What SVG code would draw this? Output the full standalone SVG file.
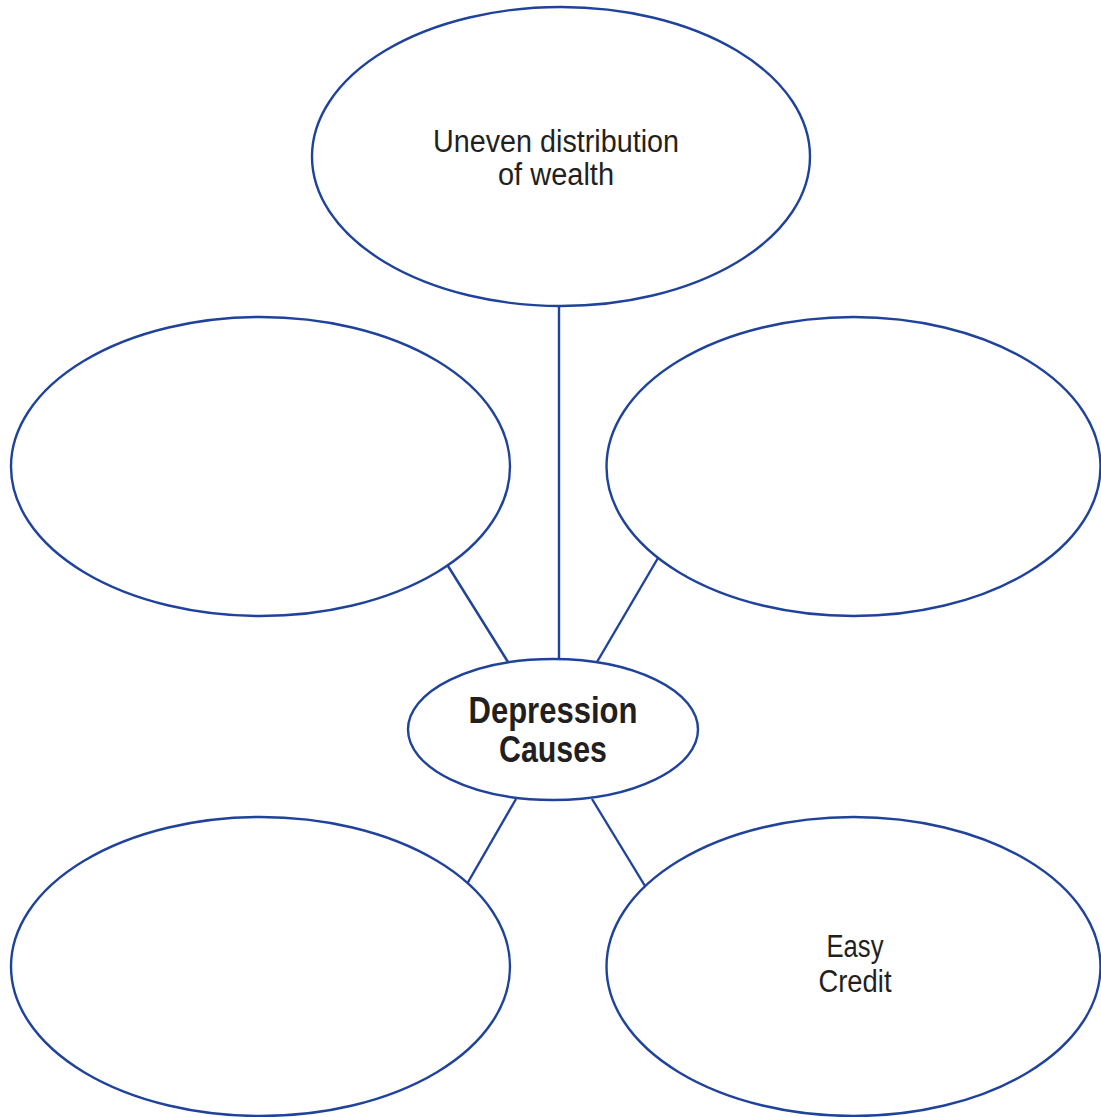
<svg xmlns="http://www.w3.org/2000/svg" width="1101" height="1117" viewBox="0 0 1101 1117">
<style>
.node { fill: #ffffff; stroke: #1f429b; stroke-width: 2.4; }
.conn { stroke: #1f429b; stroke-width: 2.4; fill: none; }
.lbl { font-family: "Liberation Sans", Arial, sans-serif; font-size: 31px; fill: #231f20; text-anchor: middle; }
.bold { font-weight: bold; font-size: 36px; }
</style>
<rect width="1101" height="1117" fill="#ffffff"/>
<g id="connectors">
  <line class="conn" x1="559" y1="306" x2="559" y2="660"/>
  <line class="conn" x1="448" y1="566" x2="508" y2="662"/>
  <line class="conn" x1="658" y1="558" x2="597" y2="662"/>
  <line class="conn" x1="516" y1="799" x2="467" y2="884"/>
  <line class="conn" x1="592" y1="799" x2="645" y2="886"/>
</g>
<g id="node-top">
  <ellipse class="node" cx="561" cy="156.5" rx="249" ry="149.5"/>
  <text class="lbl" x="556" y="152" textLength="246" lengthAdjust="spacingAndGlyphs">Uneven distribution</text>
  <text class="lbl" x="556" y="185" textLength="116" lengthAdjust="spacingAndGlyphs">of wealth</text>
</g>
<g id="node-left">
  <ellipse class="node" cx="260.5" cy="466.5" rx="249.5" ry="149.5"/>
</g>
<g id="node-right">
  <ellipse class="node" cx="853.5" cy="466.5" rx="247" ry="149.5"/>
</g>
<g id="node-center">
  <ellipse class="node" cx="553" cy="729.5" rx="145" ry="70.5"/>
  <text class="lbl bold" x="553" y="723" textLength="169" lengthAdjust="spacingAndGlyphs">Depression</text>
  <text class="lbl bold" x="553" y="762" textLength="108" lengthAdjust="spacingAndGlyphs">Causes</text>
</g>
<g id="node-bottom-left">
  <ellipse class="node" cx="260.5" cy="966.5" rx="249.5" ry="149.5"/>
</g>
<g id="node-bottom-right">
  <ellipse class="node" cx="853.5" cy="966.5" rx="247" ry="149.5"/>
  <text class="lbl" x="855" y="957" textLength="57" lengthAdjust="spacingAndGlyphs">Easy</text>
  <text class="lbl" x="855" y="992" textLength="73" lengthAdjust="spacingAndGlyphs">Credit</text>
</g>
</svg>
